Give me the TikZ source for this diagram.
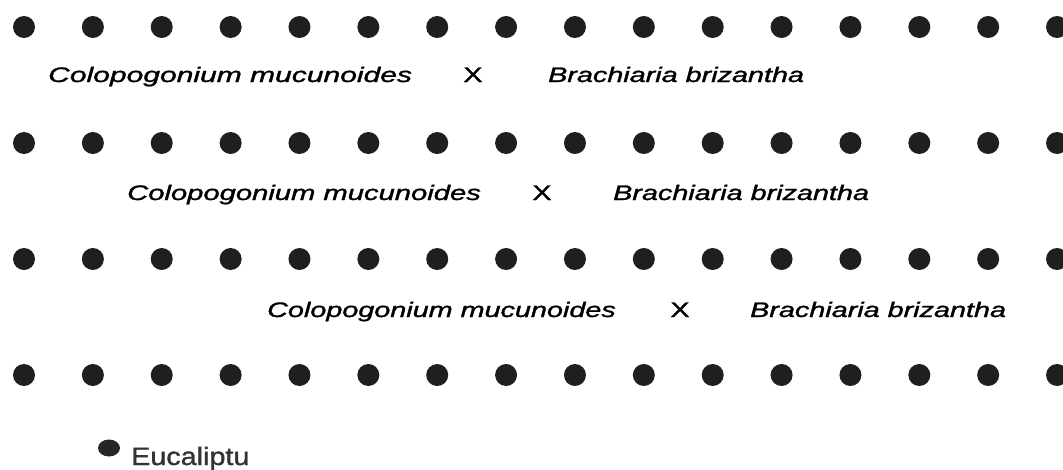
\documentclass[tikz,border=0pt]{standalone}
\usepackage{graphicx}
\usepackage{fontspec}
\usetikzlibrary{shapes.geometric}
\setmainfont{Liberation Sans}
\newfontfamily\lblfont{Liberation Sans}[FakeBold=1.2]
\begin{document}
\begin{tikzpicture}[x=1pt,y=-1pt,
  dot/.style={circle,fill=black!88,minimum size=22pt,inner sep=0pt},
  lbl/.style={font=\lblfont\fontsize{21}{25}\selectfont\itshape,inner sep=0pt,anchor=base west},
  cross/.style={font=\lblfont\fontsize{21}{25}\selectfont,inner sep=0pt,anchor=base}]
\useasboundingbox[fill=white] (0,0) rectangle (1063,469);
\foreach \r/\y in {1/27,2/143,3/259,4/375}{
  \foreach \k in {0,...,15}{
    \node[dot] (d\r-\k) at ({24+68.87*\k},\y) {};
  }
}
% row 1
\node[lbl] (c1) at (48,82) {\scalebox{1.43}[1]{Colopogonium mucunoides}};
\node[cross] (x1) at (473,82) {\scalebox{1.37}[1]{X}};
\node[lbl] (b1) at (548,82) {\scalebox{1.37}[1]{Brachiaria brizantha}};
% row 2
\node[lbl] (c2) at (127,200) {\scalebox{1.39}[1]{Colopogonium mucunoides}};
\node[cross] (x2) at (542,200) {\scalebox{1.37}[1]{X}};
\node[lbl] (b2) at (613,200) {\scalebox{1.37}[1]{Brachiaria brizantha}};
% row 3
\node[lbl] (c3) at (267,317) {\scalebox{1.37}[1]{Colopogonium mucunoides}};
\node[cross] (x3) at (680,317) {\scalebox{1.37}[1]{X}};
\node[lbl] (b3) at (750,317) {\scalebox{1.37}[1]{Brachiaria brizantha}};
% legend
\node[ellipse,fill=black!85,minimum width=22pt,minimum height=17pt,inner sep=0pt] (leg) at (109,448) {};
\node[font=\lblfont\fontsize{25}{30}\selectfont,inner sep=0pt,anchor=base west,text=black!80] (legt) at (131,465) {\scalebox{1.15}[1]{Eucaliptu}};
\end{tikzpicture}
\end{document}
